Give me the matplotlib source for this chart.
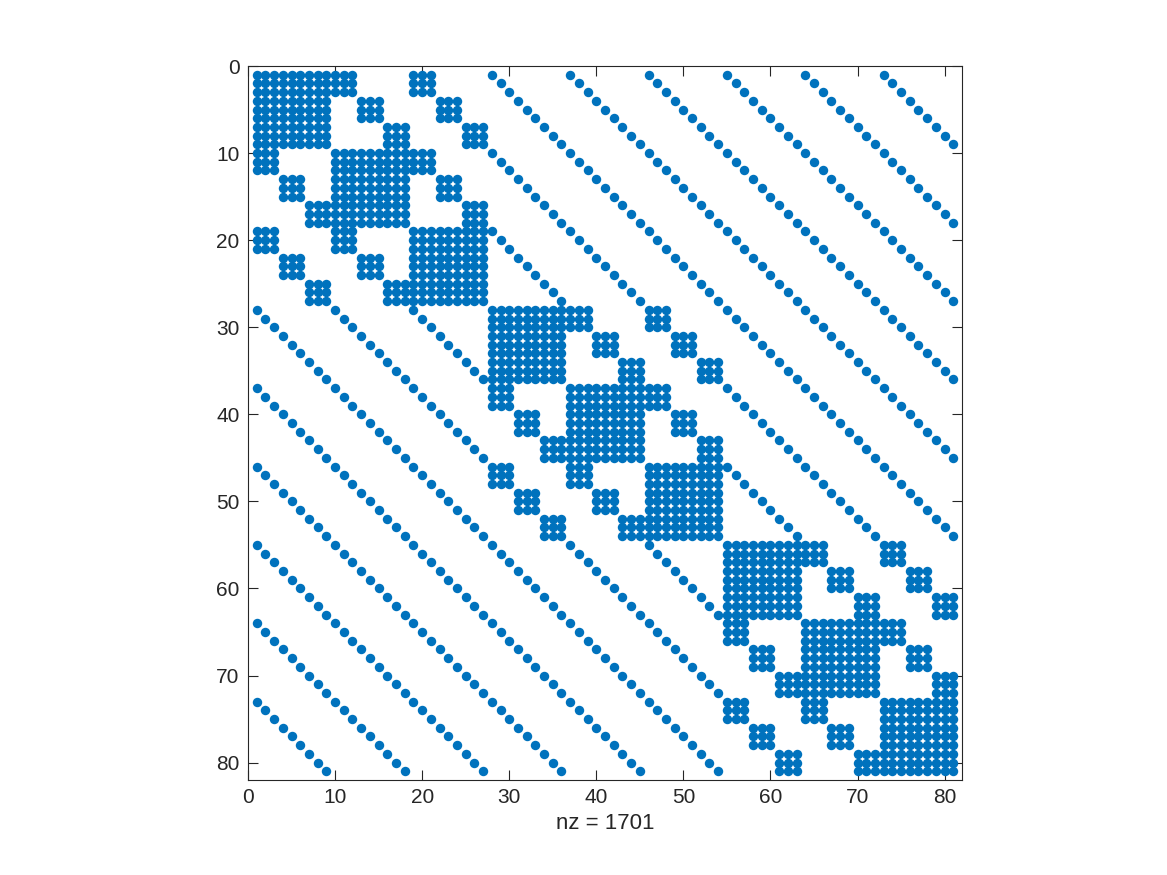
import matplotlib.pyplot as plt
import numpy as np

# Sudoku cell labels (row-major numbering of the 81 cells)
cell_row = [0, 0, 0, 0, 0, 0, 0, 0, 0,
            1, 1, 1, 1, 1, 1, 1, 1, 1,
            2, 2, 2, 2, 2, 2, 2, 2, 2,
            3, 3, 3, 3, 3, 3, 3, 3, 3,
            4, 4, 4, 4, 4, 4, 4, 4, 4,
            5, 5, 5, 5, 5, 5, 5, 5, 5,
            6, 6, 6, 6, 6, 6, 6, 6, 6,
            7, 7, 7, 7, 7, 7, 7, 7, 7,
            8, 8, 8, 8, 8, 8, 8, 8, 8]
cell_col = [0, 1, 2, 3, 4, 5, 6, 7, 8] * 9
cell_box = [0, 0, 0, 1, 1, 1, 2, 2, 2,
            0, 0, 0, 1, 1, 1, 2, 2, 2,
            0, 0, 0, 1, 1, 1, 2, 2, 2,
            3, 3, 3, 4, 4, 4, 5, 5, 5,
            3, 3, 3, 4, 4, 4, 5, 5, 5,
            3, 3, 3, 4, 4, 4, 5, 5, 5,
            6, 6, 6, 7, 7, 7, 8, 8, 8,
            6, 6, 6, 7, 7, 7, 8, 8, 8,
            6, 6, 6, 7, 7, 7, 8, 8, 8]
tick_values = [0, 10, 20, 30, 40, 50, 60, 70, 80]

# adjacency (plus identity) : cells sharing a row, column or box
r = np.array(cell_row)
c = np.array(cell_col)
b = np.array(cell_box)
A = (r[:, None] == r[None, :]) | (c[:, None] == c[None, :]) | (b[:, None] == b[None, :])
rows, cols = np.nonzero(A)

plt.rcParams['font.family'] = ['Liberation Sans', 'DejaVu Sans']
fig = plt.figure(figsize=(11.67, 8.75), dpi=100)
ax = fig.add_axes([248 / 1167, 95 / 875, 714 / 1167, 714 / 875])

# MATLAB spy is 1-based
ax.plot(cols + 1, rows + 1, 'o', color='#0072BD', markersize=6.8,
        markeredgewidth=0, linestyle='none')

ax.set_xlim(0, 82)
ax.set_ylim(82, 0)
ax.set_xticks(tick_values)
ax.set_yticks(tick_values)
ax.tick_params(direction='in', length=7, width=0.8, colors='#262626',
               labelsize=15, top=True, right=True, pad=6)
for s in ax.spines.values():
    s.set_color('#262626')
    s.set_linewidth(0.8)
ax.set_xlabel('nz = %d' % len(rows), fontsize=16, color='#262626', labelpad=4)

fig.savefig('out.png', dpi=100)
